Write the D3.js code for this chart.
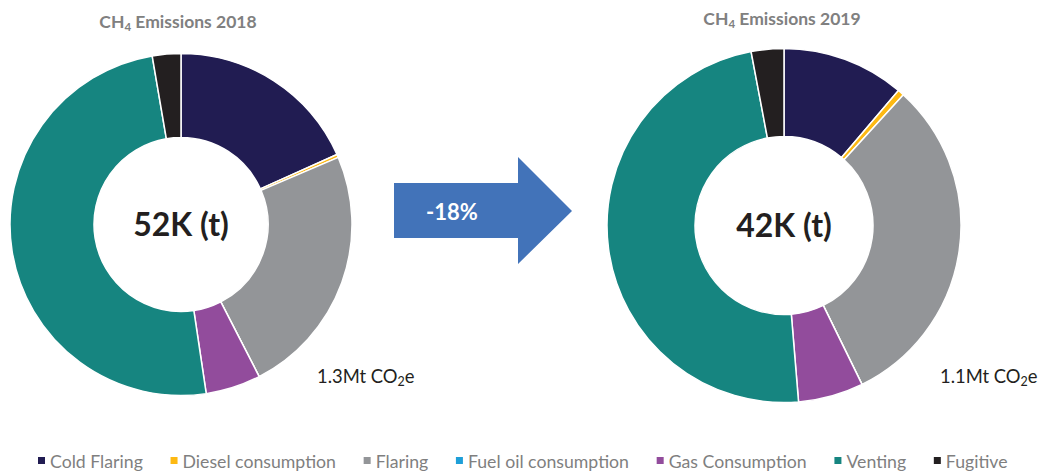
<!DOCTYPE html>
<html>
<head>
<meta charset="utf-8">
<script src="https://cdn.jsdelivr.net/npm/d3@7"></script>
<style>
  body { margin: 0; background: #fff; }
  svg { display: block; }
</style>
</head>
<body>
<div id="chart"></div>
<script>
var w = 1043, h = 473;

// data
var categories = ["Cold Flaring", "Diesel consumption", "Flaring", "Fuel oil consumption", "Gas Consumption", "Venting", "Fugitive"];
var colors = ["#211c52", "#fdb913", "#939598", "#1e9fd8", "#924c9c", "#168580", "#231f20"];
var values2018 = [9.5, 0.15, 12.4, 0, 2.7, 25.8, 1.4];   // kt CH4
var values2019 = [4.7, 0.25, 13.0, 0, 2.5, 20.3, 1.25];  // kt CH4
var years = ["2018", "2019"];
var totals = ["52K (t)", "42K (t)"];
var co2 = ["1.3Mt CO", "1.1Mt CO"];
var change = "-18%";

var font = "Lato, 'Open Sans', sans-serif";

var svg = d3.select("#chart").append("svg").attr("width", w).attr("height", h);

var pie = d3.pie().sort(null).value(function (d) { return d; });

function mkDonut(vis, vals, cx, cy, r0, r1, idx) {
    var g = vis.append("g").attr("transform", "translate(" + cx + "," + cy + ")");
    var arc = d3.arc().innerRadius(r0).outerRadius(r1);
    g.selectAll("path").data(pie(vals)).enter().append("path")
        .attr("d", arc)
        .attr("fill", function (d, i) { return colors[i]; })
        .attr("stroke", "#fff").attr("stroke-width", 1.5)
        .attr("stroke-linejoin", "round");

    g.append("text").attr("x", 0).attr("y", 11)
        .attr("text-anchor", "middle")
        .attr("font-family", font).attr("font-weight", "bold").attr("font-size", "32px")
        .attr("fill", "#231f20").text(totals[idx]);
}

function mkTitle(vis, x, y, year) {
    var t = vis.append("text").attr("x", x).attr("y", y).attr("text-anchor", "middle")
        .attr("font-family", font).attr("font-weight", "bold").attr("font-size", "17.5px").attr("fill", "#808080");
    t.append("tspan").text("CH");
    t.append("tspan").attr("font-size", "11.5px").attr("dy", 3).text("4");
    t.append("tspan").attr("dy", -3).text(" Emissions " + year);
}

function mkCo2(vis, x, y, label) {
    var t = vis.append("text").attr("x", x).attr("y", y)
        .attr("font-family", font).attr("font-size", "18.4px").attr("fill", "#231f20");
    t.append("tspan").text(label);
    t.append("tspan").attr("font-size", "12.5px").attr("dy", 3).text("2");
    t.append("tspan").attr("dy", -3).text("e");
}

mkTitle(svg, 178, 28, years[0]);
mkTitle(svg, 782, 25, years[1]);

mkDonut(svg, values2018, 181, 224.5, 87, 171, 0);
mkDonut(svg, values2019, 784, 225.5, 89, 177, 1);

mkCo2(svg, 317, 383, co2[0]);
mkCo2(svg, 940, 383, co2[1]);

// arrow
var arrow = svg.append("g");
arrow.append("path")
    .attr("fill", "#4273b9")
    .attr("d", "M 394 183 L 518 183 L 518 157 L 572 211 L 518 264 L 518 238 L 394 238 Z");
arrow.append("text").attr("x", 452).attr("y", 220).attr("text-anchor", "middle")
    .attr("font-family", font).attr("font-weight", "bold").attr("font-size", "22px")
    .attr("fill", "#fff").text(change);

// legend
var leg = svg.append("g");
var lx = 38;
categories.forEach(function (c, i) {
    leg.append("rect").attr("x", lx).attr("y", 457).attr("width", 7).attr("height", 7).attr("fill", colors[i]);
    var t = leg.append("text").attr("x", lx + 12).attr("y", 468)
        .attr("font-family", font).attr("font-size", "17.7px").attr("fill", "#7f7f7f").text(c);
    lx += 12 + t.node().getComputedTextLength() + 27.7;
});
</script>
</body>
</html>
